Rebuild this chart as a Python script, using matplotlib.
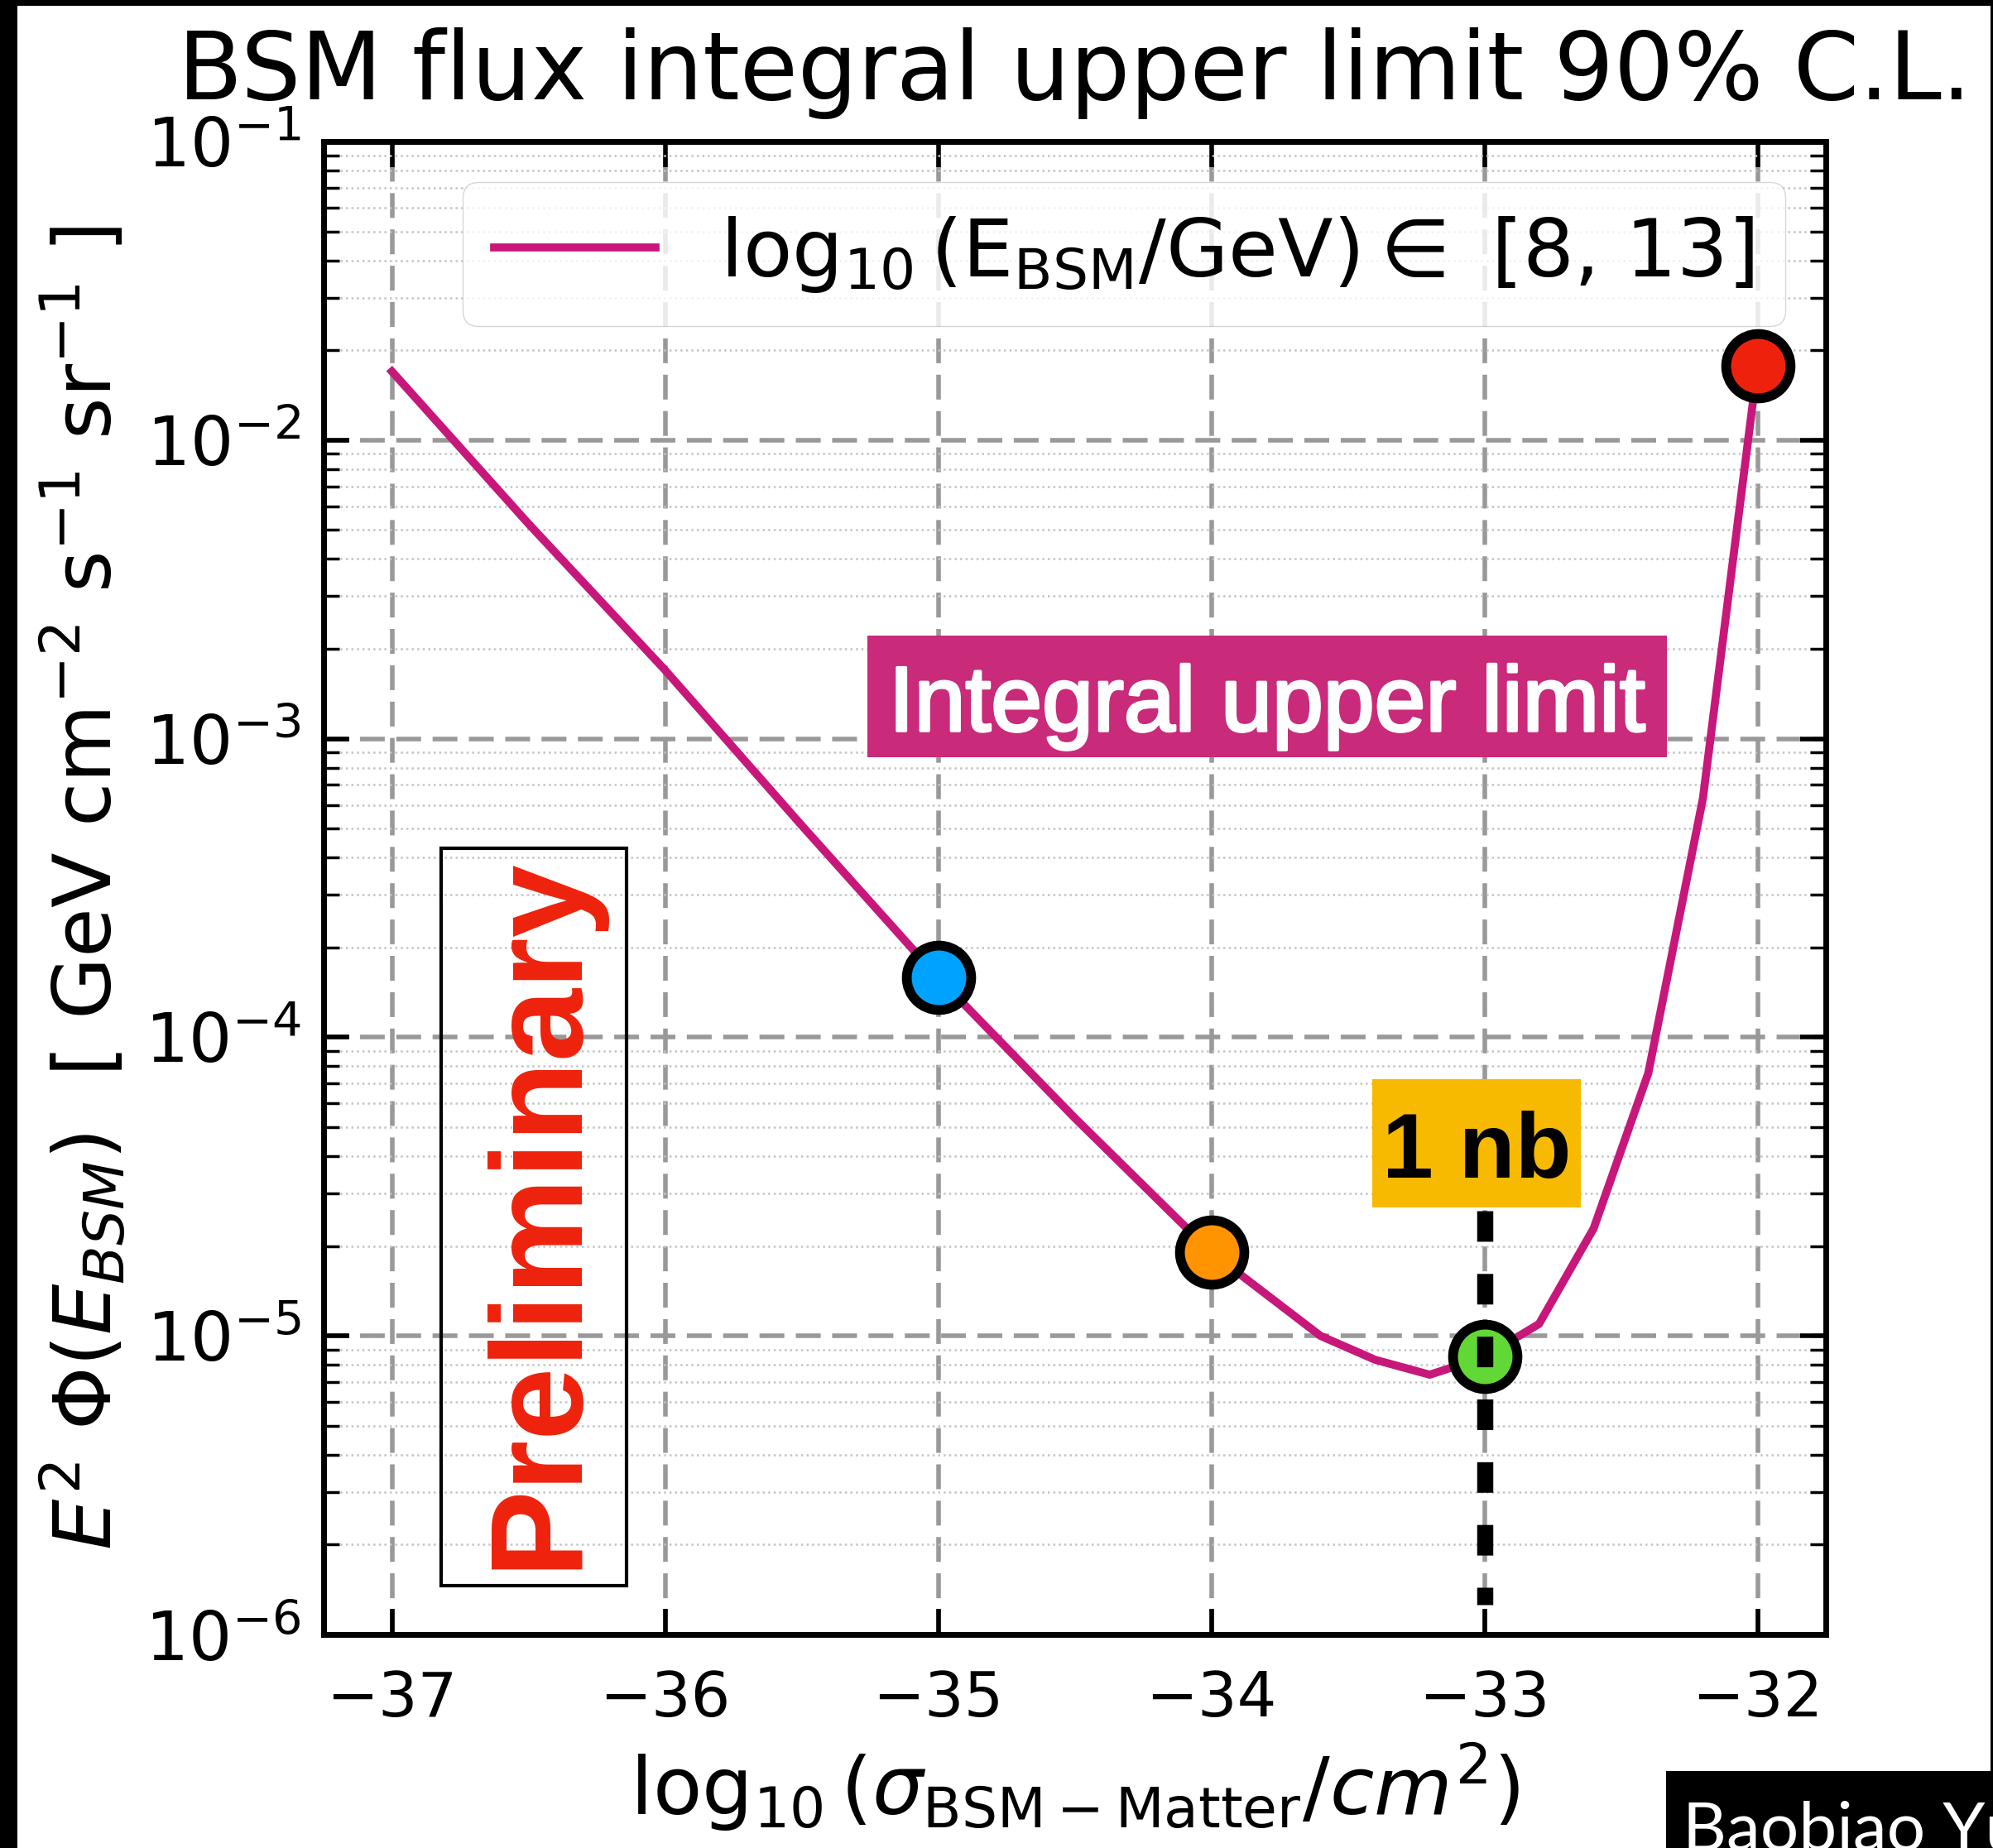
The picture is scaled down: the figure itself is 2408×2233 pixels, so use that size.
import matplotlib
matplotlib.use('Agg')
import matplotlib.pyplot as plt
import matplotlib.patheffects as pe
from matplotlib.patches import Rectangle
from matplotlib.ticker import LogLocator, NullLocator, NullFormatter
import numpy as np

# log10(sigma_BSM-Matter / cm^2)
log_sigma = [-37.0, -36.5, -36.0, -35.5, -35.0, -34.5, -34.0, -33.8, -33.6,
             -33.4, -33.2, -33.0, -32.8, -32.6, -32.4, -32.2, -32.0]
# log10 of the E^2 Phi upper limit [GeV cm^-2 s^-1 sr^-1]
log_flux = [-1.77, -2.28, -2.77, -3.29, -3.80, -4.27, -4.72, -4.86, -5.00,
            -5.08, -5.13, -5.07, -4.96, -4.64, -4.12, -3.20, -1.75]

# highlighted cross sections
dot_sigma = [-35, -34, -33, -32]
dot_flux = [-3.80, -4.72, -5.07, -1.75]
dot_colors = ['#00A2FF', '#FF9300', '#61D836', '#EE220C']

# 1 nb marker line
nb_sigma = -33
nb_flux = [-4.58, -5.90]

x_ticks = [-37, -36, -35, -34, -33, -32]

W, H = 2408, 2233
fig = plt.figure(figsize=(W / 100, H / 100), dpi=100, facecolor='black')
fig.patches.append(Rectangle((21 / W, 0), (2405 - 21) / W, (H - 7) / H,
                             transform=fig.transFigure, facecolor='white',
                             edgecolor='none', zorder=-10))
fig.patches.append(Rectangle((2013 / W, 0), (W - 2013) / W, 93 / H,
                             transform=fig.transFigure, facecolor='black',
                             edgecolor='none', zorder=-5))

ax = fig.add_axes([391 / W, 1 - 1975 / H, 1815 / W, 1804 / H])

line_color = '#C8177A'
ax.plot(log_sigma, 10 ** np.array(log_flux), color=line_color, lw=7, zorder=3,
        label=r'$\log_{10}(\rm E_{BSM}/GeV) \in$ [8, 13]')

for s, f, c in zip(dot_sigma, dot_flux, dot_colors):
    ax.plot(s, 10 ** f, 'o', ms=56, mfc=c, mec='black', mew=8.5, zorder=6,
            clip_on=False)

ax.plot([nb_sigma, nb_sigma], 10 ** np.array(nb_flux), color='black', lw=14,
        ls=(0, (1.9, 2.0)), zorder=7)

ax.set_yscale('log')
ax.set_xlim(-37.25, -31.75)
ax.set_ylim(1e-6, 1e-1)
ax.set_xticks(x_ticks)
ax.xaxis.set_minor_locator(NullLocator())
ax.yaxis.set_minor_locator(LogLocator(base=10, subs=np.arange(2, 10), numticks=100))
ax.yaxis.set_minor_formatter(NullFormatter())

ax.tick_params(which='both', direction='in', top=True, right=True)
ax.tick_params(which='major', length=22, width=4)
ax.tick_params(which='minor', length=14, width=2.5)
ax.tick_params(axis='x', pad=30, labelsize=54)
ax.tick_params(axis='y', pad=20, labelsize=59)
for sp in ax.spines.values():
    sp.set_linewidth(5)

ax.grid(which='major', ls=(0, (5.4, 2.5)), lw=4, color='#999999')
ax.grid(which='minor', axis='y', ls=':', lw=1.8, color='#c4c4c4')

ax.set_title('BSM flux integral upper limit 90% C.L.', fontsize=82, pad=37)
ax.set_xlabel(r'$\log_{10}(\sigma_{\rm BSM-Matter}/cm^2)$', fontsize=70,
              labelpad=10)
ax.set_ylabel(r'$E^2\ \Phi(E_{BSM})$  [ GeV cm$^{-2}$ s$^{-1}$ sr$^{-1}$ ]',
              fontsize=70, labelpad=14)

ax.legend(loc='upper right', fontsize=70)

# overlay labels
ax.add_patch(Rectangle((0.362, 0.5876), 0.532, 0.0814, transform=ax.transAxes,
                       facecolor='#C92A7A', edgecolor='none', zorder=8))
ax.text(0.628, 0.6053, 'Integral upper limit', transform=ax.transAxes,
        fontsize=80, family='Liberation Sans', color='white',
        ha='center', va='baseline', zorder=9,
        path_effects=[pe.withStroke(linewidth=2.5, foreground='white')])

ax.add_patch(Rectangle((0.698, 0.286), 0.139, 0.086, transform=ax.transAxes,
                       facecolor='#F8BA00', edgecolor='none', zorder=8))
ax.text(0.7675, 0.306, '1 nb', transform=ax.transAxes, fontsize=80,
        family='Liberation Sans', fontweight='bold', color='black',
        ha='center', va='baseline', zorder=9)

ax.add_patch(Rectangle((0.0782, 0.0327), 0.1235, 0.4939, transform=ax.transAxes,
                       facecolor='none', edgecolor='black', lw=3, zorder=8))
ax.text(0.1666, 0.283, 'Preliminary', transform=ax.transAxes, fontsize=114,
        family='Liberation Sans', fontweight='bold', color='#EE220C',
        rotation=90, rotation_mode='anchor', ha='center', va='baseline', zorder=9)

fig.text(2033 / W, -0.001, 'Baobiao Yu', color='white', fontsize=59,
         family='Lato', ha='left', va='baseline')

fig.savefig('out.png', dpi=100, facecolor=fig.get_facecolor())
